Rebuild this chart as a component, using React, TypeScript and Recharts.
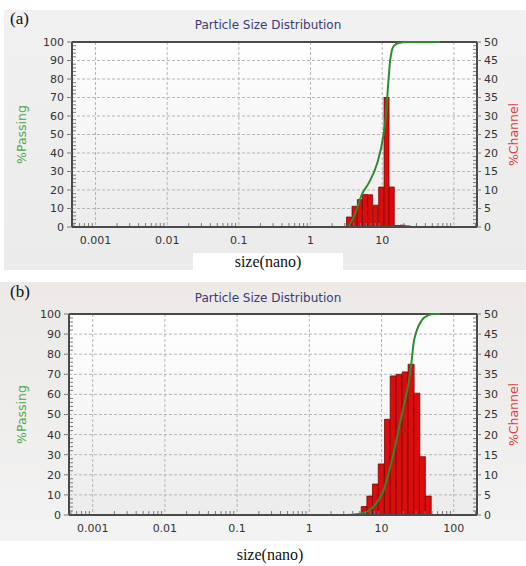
import React from 'react';
import { ComposedChart, Bar, Line, XAxis, YAxis, CartesianGrid, ReferenceLine } from 'recharts';

// shared axes
const sizeTicks = [0.001, 0.01, 0.1, 1, 10, 100];
const passingTicks = [0, 10, 20, 30, 40, 50, 60, 70, 80, 90, 100];
const channelTicks = [0, 5, 10, 15, 20, 25, 30, 35, 40, 45, 50];
const sizeDomain = [0.00047, 210];

// minor tick marks (log 2..9 per decade, every 2 %passing, every 1 %channel)
const minorSizeTicks = [0.0001, 0.001, 0.01, 0.1, 1, 10, 100]
  .flatMap((d) => [2, 3, 4, 5, 6, 7, 8, 9].map((m) => +(d * m).toPrecision(3)))
  .filter((v) => v > 0.00047 && v < 210);
const minorPassingTicks = Array.from({ length: 51 }, (_, i) => i * 2).filter((v) => v % 10 !== 0);
const minorChannelTicks = Array.from({ length: 51 }, (_, i) => i).filter((v) => v % 5 !== 0);

// (a) histogram channels (nm) and %channel
const channelSizesA = [3.44, 4.11, 4.88, 5.75, 6.8, 8.11, 9.68, 11.5, 13.6, 16.3, 19.3, 22.7];
const channelA = [2.7, 5.6, 7.4, 8.8, 8.7, 5.9, 10.8, 35, 10.8, 0.4, 0.5, 0.3];
// (a) cumulative %passing
const passingSizesA = [0.01, 3.22, 4.2, 5.26, 6.44, 8.44, 10.4, 11.3, 12.2, 12.9, 14.4, 16.9, 22.1, 64.4];
const passingA = [0, 0, 7.4, 18, 23.6, 34, 49.6, 61, 79, 90, 97.7, 99.5, 100, 100];

// (b)
const channelSizesB = [5.72, 6.85, 8.18, 9.84, 12.0, 14.4, 17.4, 21.1, 25.5, 30.6, 36.5, 44.0];
const channelB = [2.1, 4.7, 7.7, 12.7, 23.8, 34.6, 35, 35.6, 37.5, 30.3, 14.5, 4.7];
const passingSizesB = [0.01, 3.13, 5.32, 7.33, 9.08, 10.7, 12.5, 14.7, 17.2, 20.2, 23.7, 25.9, 27.8, 30.9, 36.3, 45, 52.7, 65.3];
const passingB = [0, 0, 0.8, 3.3, 7.5, 12.4, 20.7, 30.7, 42.3, 53.9, 65.5, 75.5, 85.4, 92, 97, 99.5, 100, 100];

const barRows = (sizes: number[], vals: number[]) => sizes.map((s, i) => ({ size: s, channel: vals[i] }));
const lineRows = (sizes: number[], vals: number[]) => sizes.map((s, i) => ({ size: s, passing: vals[i] }));

const FONT = 'DejaVu Sans';
const TICK_COLOR = '#333';
const MARK = '#7a7a7a';
const GAP = 8; // tickMargin used to find the axis line from the tick position
const frame = { stroke: '#4a4a4a', strokeWidth: 2 };

// x ticks: label + nothing for decades, short inward mark for minor values
const XTick = ({ x, y, payload, hide100 }: any) => {
  const v = payload.value;
  const axisY = y - GAP;
  if (!sizeTicks.includes(v)) return <line x1={x} x2={x} y1={axisY - 1} y2={axisY - 4} stroke={MARK} />;
  return (
    <text x={x} y={y} dy="0.85em" textAnchor="middle" fill={TICK_COLOR} fontSize={11} fontFamily={FONT}>
      {hide100 && v === 100 ? '' : String(v)}
    </text>
  );
};

const LeftTick = ({ x, y, payload }: any) => {
  const v = payload.value;
  const axisX = x + GAP;
  if (v % 10 !== 0) return <line x1={axisX + 1} x2={axisX + 4} y1={y} y2={y} stroke={MARK} />;
  return (
    <g>
      <line x1={axisX - 5} x2={axisX} y1={y} y2={y} stroke={MARK} />
      <text x={axisX - 8} y={y} dy="0.36em" textAnchor="end" fill={TICK_COLOR} fontSize={11} fontFamily={FONT}>{v}</text>
    </g>
  );
};

const RightTick = ({ x, y, payload }: any) => {
  const v = payload.value;
  const axisX = x - GAP;
  if (v % 5 !== 0) return <line x1={axisX - 1} x2={axisX - 4} y1={y} y2={y} stroke={MARK} />;
  return (
    <g>
      <line x1={axisX} x2={axisX + 4} y1={y} y2={y} stroke={MARK} />
      <text x={axisX + 7} y={y} dy="0.36em" textAnchor="start" fill={TICK_COLOR} fontSize={11} fontFamily={FONT}>{v}</text>
    </g>
  );
};

const sideLabel = (text: string, color: string, x: number) => (props: any) => {
  const vb = props.viewBox || {};
  const y = vb.y + vb.height / 2;
  return (
    <text x={x} y={y} transform={`rotate(-90 ${x} ${y})`} textAnchor="middle" dominantBaseline="middle"
      fill={color} fontSize={12.5} fontFamily={FONT}>{text}</text>
  );
};

function Panel(props: any) {
  const { top, height, marginLeft, marginBottom, bars, curve, hide100, gid } = props;
  return (
    <div style={{ position: 'absolute', left: 0, top, width: 526, height }}>
      <ComposedChart width={526} height={height} data={bars} barCategoryGap={0} barGap={0}
        margin={{ top: 32, right: 9, bottom: marginBottom, left: marginLeft }}>
        <defs>
          <linearGradient id={gid} x1="0" y1="0" x2="0" y2="1">
            <stop offset="0%" stopColor="#ffffff" />
            <stop offset="100%" stopColor="#ececec" />
          </linearGradient>
        </defs>
        <CartesianGrid yAxisId="left" fill={`url(#${gid})`} stroke="#b5b5b5" strokeDasharray="3 2"
          verticalValues={sizeTicks} horizontalValues={passingTicks} />
        <XAxis type="number" dataKey="size" scale="log" domain={sizeDomain} allowDataOverflow
          ticks={[...sizeTicks, ...minorSizeTicks].sort((a, b) => a - b)} interval={0} height={22}
          tick={<XTick hide100={hide100} />} tickSize={0} tickMargin={GAP} axisLine={frame} tickLine={false} />
        <XAxis xAxisId="bar" type="number" dataKey="size" scale="log" domain={sizeDomain} allowDataOverflow hide />
        <YAxis yAxisId="left" domain={[0, 100]} ticks={[...passingTicks, ...minorPassingTicks].sort((a, b) => a - b)}
          interval={0} width={44} tick={<LeftTick />} tickSize={0} tickMargin={GAP} axisLine={frame} tickLine={false}
          label={sideLabel('%Passing', '#4aa84a', 22)} />
        <YAxis yAxisId="right" orientation="right" domain={[0, 50]}
          ticks={[...channelTicks, ...minorChannelTicks].sort((a, b) => a - b)} interval={0} width={40}
          tick={<RightTick />} tickSize={0} tickMargin={GAP} axisLine={frame} tickLine={false}
          label={sideLabel('%Channel', '#d84040', 514)} />
        <ReferenceLine yAxisId="left" y={100} stroke="#4a4a4a" strokeWidth={2} />
        <Bar xAxisId="bar" yAxisId="right" dataKey="channel" fill="#dc0c0c" stroke="#7a0808" strokeWidth={0.8}
          isAnimationActive={false} />
        <Line yAxisId="left" data={curve} dataKey="passing" type="monotone" stroke="#2f8a2f"
          strokeWidth={2} dot={false} activeDot={false} isAnimationActive={false} />
      </ComposedChart>
    </div>
  );
}

const titleStyle: React.CSSProperties = {
  position: 'absolute', left: 0, width: 536, textAlign: 'center',
  fontFamily: FONT, fontSize: 12, color: '#3b3b78', lineHeight: '14px',
};
const tagStyle: React.CSSProperties = {
  position: 'absolute', left: 10, fontFamily: 'Liberation Serif', fontSize: 17, lineHeight: '17px', color: '#111',
};
const captionStyle: React.CSSProperties = {
  position: 'absolute', fontFamily: 'Liberation Serif', fontSize: 16, lineHeight: '18px', color: '#111',
  textAlign: 'center', background: '#fff',
};

export default function App() {
  return (
    <div style={{ position: 'relative', width: 526, height: 566, background: '#fff', overflow: 'hidden' }}>
      <style>{'body{margin:0}'}</style>
      <div style={{ position: 'absolute', left: 4, top: 10, width: 522, height: 260, background: 'linear-gradient(#f1f1f1,#ebebeb)' }} />
      <div style={{ position: 'absolute', left: 0, top: 282, width: 526, height: 259, background: 'linear-gradient(#ece9e7,#f3f3f3)' }} />
      <Panel top={10} height={260} marginLeft={28} marginBottom={21} gid="gA"
        bars={barRows(channelSizesA, channelA)} curve={lineRows(passingSizesA, passingA)} hide100 />
      <Panel top={282} height={259} marginLeft={25} marginBottom={4} gid="gB"
        bars={barRows(channelSizesB, channelB)} curve={lineRows(passingSizesB, passingB)} hide100={false} />
      <div style={{ ...tagStyle, top: 10 }}>(a)</div>
      <div style={{ ...tagStyle, top: 283 }}>(b)</div>
      <div style={{ ...titleStyle, top: 18 }}>Particle Size Distribution</div>
      <div style={{ ...titleStyle, top: 291 }}>Particle Size Distribution</div>
      <div style={{ ...captionStyle, left: 193, top: 253, width: 150 }}>size(nano)</div>
      <div style={{ ...captionStyle, left: 195, top: 546, width: 150 }}>size(nano)</div>
    </div>
  );
}
